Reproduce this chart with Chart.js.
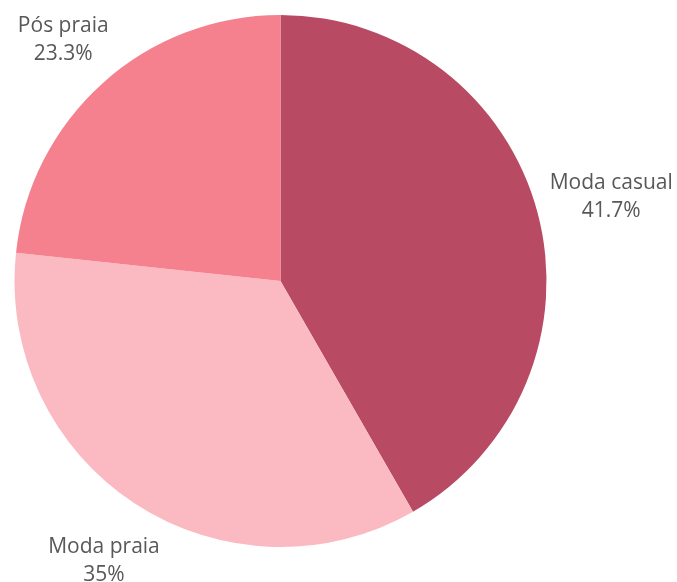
<!DOCTYPE html>
<html>
<head>
<meta charset="utf-8">
<script src="https://cdn.jsdelivr.net/npm/chart.js@4/dist/chart.umd.min.js"></script>
<style>
html,body{margin:0;padding:0;background:#fff;}
#wrap{width:677px;height:582px;}
</style>
</head>
<body>
<div id="wrap"><canvas id="c" width="677" height="582"></canvas></div>
<script>
const categories = ["Moda casual", "Moda praia", "Pós praia"];
const values = [41.7, 35, 23.3];
const valueLabels = ["41.7%", "35%", "23.3%"];
const colors = ["#b94a63", "#fbbac2", "#f5818e"];

const outsideLabels = {
  id: 'outsideLabels',
  afterDatasetsDraw(chart) {
    const ctx = chart.ctx;
    const meta = chart.getDatasetMeta(0);
    ctx.save();
    ctx.font = '21px "Open Sans"';
    ctx.fillStyle = '#585858';
    ctx.textAlign = 'center';
    ctx.textBaseline = 'middle';
    meta.data.forEach((arc, i) => {
      const p = arc.getProps(['x','y','startAngle','endAngle','outerRadius'], true);
      const mid = (p.startAngle + p.endAngle) / 2;
      const d = p.outerRadius + 68;
      const c = Math.cos(mid), s = Math.sin(mid);
      const x = p.x + c * d + (c > 0.5 ? 8 : 6);
      const y = p.y + s * d + Math.max(0, -s) * 10;
      ctx.fillText(categories[i], x, y - 14);
      ctx.fillText(valueLabels[i], x, y + 14);
    });
    ctx.restore();
  }
};

new Chart(document.getElementById('c'), {
  type: 'pie',
  data: {
    labels: categories,
    datasets: [{
      data: values,
      backgroundColor: colors,
      borderWidth: 0
    }]
  },
  options: {
    responsive: false,
    animation: false,
    layout: { padding: { top: 15, bottom: 35, left: 14, right: 130 } },
    plugins: {
      legend: { display: false },
      tooltip: { enabled: false }
    }
  },
  plugins: [outsideLabels]
});
</script>
</body>
</html>
